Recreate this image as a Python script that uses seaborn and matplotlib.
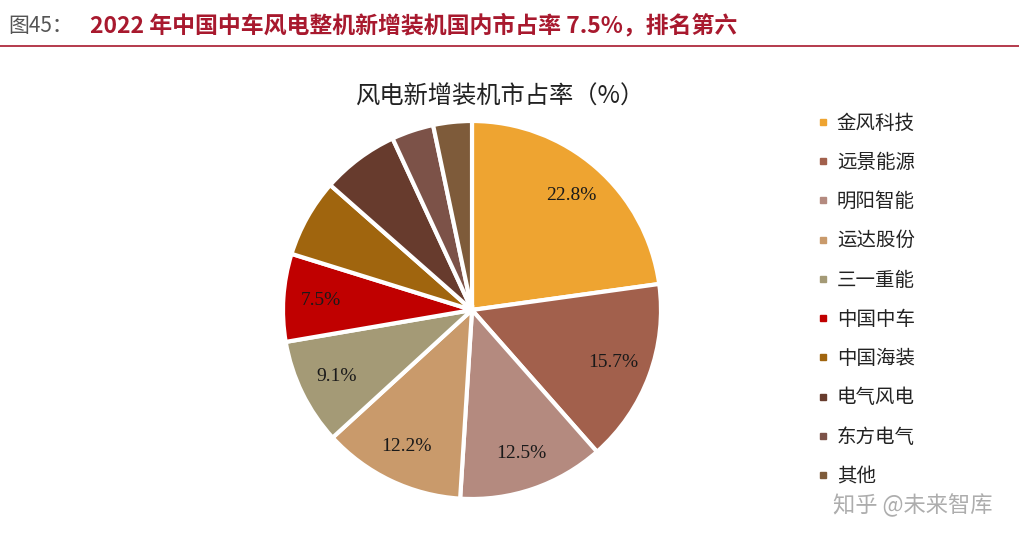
import numpy as np
import pandas as pd
import matplotlib.pyplot as plt
import seaborn as sns
from matplotlib.lines import Line2D

sns.set_theme(style="white")
plt.rcParams['font.family'] = ['Noto Sans CJK SC', 'DejaVu Sans']

companies = ['金风科技', '远景能源', '明阳智能', '运达股份', '三一重能',
             '中国中车', '中国海装', '电气风电', '东方电气', '其他']
shares = [22.8, 15.7, 12.5, 12.2, 9.1, 7.5, 6.7, 6.6, 3.6, 3.3]
colors = ['#EEA431', '#A2604C', '#B48A7F', '#C99A6B', '#A49A76',
          '#C00000', '#A0650E', '#673B2D', '#7C5248', '#7E5B3A']

df = pd.DataFrame({'company': companies, 'share': shares})

fig = plt.figure(figsize=(10.2, 5.45), dpi=100)

# header
fig.text(8/1020, 1-26/545, '图45：', fontsize=15, color='#555555', va='center')
fig.text(90/1020, 1-26/545, '2022 年中国中车风电整机新增装机国内市占率 7.5%，排名第六',
         fontsize=16.5, fontweight='bold', color='#A8192E', va='center')
fig.add_artist(Line2D([0, 1], [1-46/545, 1-46/545], color='#A8192E', lw=1.2))

ax = fig.add_axes([283/1020, 1-499/545, 378/1020, 378/545])
wedges, texts, autotexts = ax.pie(
    df['share'], colors=colors, startangle=90, counterclock=False,
    autopct=lambda p: f'{p:.1f}%' if p > 7 else '', pctdistance=0.8,
    wedgeprops=dict(edgecolor='white', linewidth=3))
for t in autotexts:
    t.set_fontsize(14)
    t.set_family(['Liberation Serif', 'DejaVu Serif'])
    t.set_color('#1a1a1a')
ax.set_xlim(-1, 1)
ax.set_ylim(-1, 1)
ax.set_aspect('equal')

fig.text(500/1020, 1-97/545, '风电新增装机市占率（%）', fontsize=17.5,
         ha='center', va='center', color='#222222')

handles = [Line2D([], [], marker='s', color=c, linestyle='', markersize=5) for c in colors]
fig.legend(handles, companies, loc='upper left', bbox_to_anchor=(800/1020, 1-95/545),
           frameon=False, fontsize=14, labelspacing=0.94, handlelength=0.6,
           handletextpad=0.4, labelcolor='#222222')

fig.text(913/1020, 1-505/545, '知乎 @未来智库', fontsize=16, ha='center', va='center',
         color='#999999', alpha=0.8)

fig.savefig('out.png', dpi=100)
